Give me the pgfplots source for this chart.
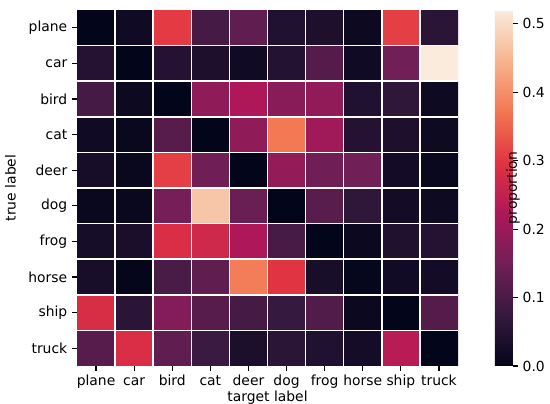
\documentclass[border=0pt]{standalone}
\usepackage{pgfplots}
\pgfplotsset{compat=1.18}
\usepackage{fontspec}
\setmainfont{DejaVu Sans}
\pgfkeys{/pgf/number format/assume math mode=true}
\pgfplotsset{
  colormap={rocket}{rgb255=(3,5,26) rgb255=(53,25,62) rgb255=(112,31,87) rgb255=(173,23,89) rgb255=(225,51,66) rgb255=(243,118,81) rgb255=(246,180,143) rgb255=(250,235,221)}
}
\begin{document}
\begin{tikzpicture}
\useasboundingbox (0,0) rectangle (396pt,290.88pt);
\begin{axis}[
  at={(55.44pt,27.36pt)}, anchor=south west,
  scale only axis, width=274.32pt, height=256.32pt,
  xmin=-0.5, xmax=9.5, ymin=-0.5, ymax=9.5,
  y dir=reverse, enlargelimits=false,
  colormap name=rocket,
  point meta min=0, point meta max=0.52,
  xtick={0,...,9}, ytick={0,...,9},
  xticklabels={plane,car,bird,cat,deer,dog,frog,horse,ship,truck},
  yticklabels={plane,car,bird,cat,deer,dog,frog,horse,ship,truck},
  minor xtick={0.5,1.5,...,8.5}, minor ytick={0.5,1.5,...,8.5},
  minor tick length=0pt,
  xminorgrids, yminorgrids,
  minor grid style={white, line width=1.1pt},
  axis on top,
  axis line style={draw=none},
  tick align=outside, major tick length=3.5pt,
  major tick style={black, line width=0.8pt},
  xtick pos=bottom, ytick pos=left,
  xlabel={target label}, ylabel={true label},
  every axis x label/.style={at={(rel axis cs:0.5,0)}, anchor=center, yshift=-22.5pt},
  every axis y label/.style={at={(rel axis cs:0,0.5)}, anchor=center, xshift=-48pt, rotate=90},
  tick label style={font=\fontsize{10}{12}\selectfont, text=black},
  xticklabel style={text height=7.3pt, text depth=2pt},
  label style={font=\fontsize{10}{12}\selectfont, text=black},
  colorbar,
  colorbar style={
    at={(parent axis.north east)}, anchor=north west, xshift=18pt,
    width=13pt,
    ytick={0,0.1,...,0.5},
    yticklabel style={/pgf/number format/.cd, fixed, fixed zerofill, precision=1, /tikz/.cd, font=\fontsize{10}{12}\selectfont, text=black},
    axis line style={draw=none},
    tick align=outside, major tick length=3.5pt,
    major tick style={black, line width=0.8pt},
    ytick pos=right, yticklabel pos=right,
    ylabel={proportion},
    every axis y label/.style={at={(rel axis cs:1,0.5)}, anchor=center, rotate=90, font=\fontsize{10}{12}\selectfont, text=black},
    ylabel style={xshift=0pt, yshift=0pt},
  },
]
\addplot[matrix plot*, mesh/cols=10, point meta=explicit] table[meta=v] {
x y v
0 0 0.000
1 0 0.020
2 0 0.305
3 0 0.095
4 0 0.127
5 0 0.045
6 0 0.040
7 0 0.015
8 0 0.310
9 0 0.060
0 1 0.050
1 1 0.000
2 1 0.050
3 1 0.040
4 1 0.020
5 1 0.048
6 1 0.114
7 1 0.020
8 1 0.150
9 1 0.520
0 2 0.095
1 2 0.015
2 2 0.000
3 2 0.186
4 2 0.225
5 2 0.177
6 2 0.188
7 2 0.045
8 2 0.065
9 2 0.017
0 3 0.020
1 3 0.010
2 3 0.117
3 3 0.000
4 3 0.186
5 3 0.375
6 3 0.207
7 3 0.050
8 3 0.040
9 3 0.017
0 4 0.030
1 4 0.010
2 4 0.310
3 4 0.147
4 4 0.000
5 4 0.190
6 4 0.147
7 4 0.148
8 4 0.025
9 4 0.010
0 5 0.010
1 5 0.010
2 5 0.155
3 5 0.470
4 5 0.140
5 5 0.000
6 5 0.120
7 5 0.065
8 5 0.025
9 5 0.017
0 6 0.028
1 6 0.035
2 6 0.285
3 6 0.270
4 6 0.225
5 6 0.097
6 6 0.000
7 6 0.012
8 6 0.043
9 6 0.050
0 7 0.033
1 7 0.003
2 7 0.100
3 7 0.127
4 7 0.380
5 7 0.298
6 7 0.033
7 7 0.005
8 7 0.022
9 7 0.025
0 8 0.283
1 8 0.060
2 8 0.172
3 8 0.117
4 8 0.095
5 8 0.074
6 8 0.110
7 8 0.012
8 8 0.000
9 8 0.113
0 9 0.117
1 9 0.285
2 9 0.128
3 9 0.082
4 9 0.037
5 9 0.058
6 9 0.045
7 9 0.027
8 9 0.237
9 9 0.000
};
\end{axis}
\end{tikzpicture}
\end{document}
